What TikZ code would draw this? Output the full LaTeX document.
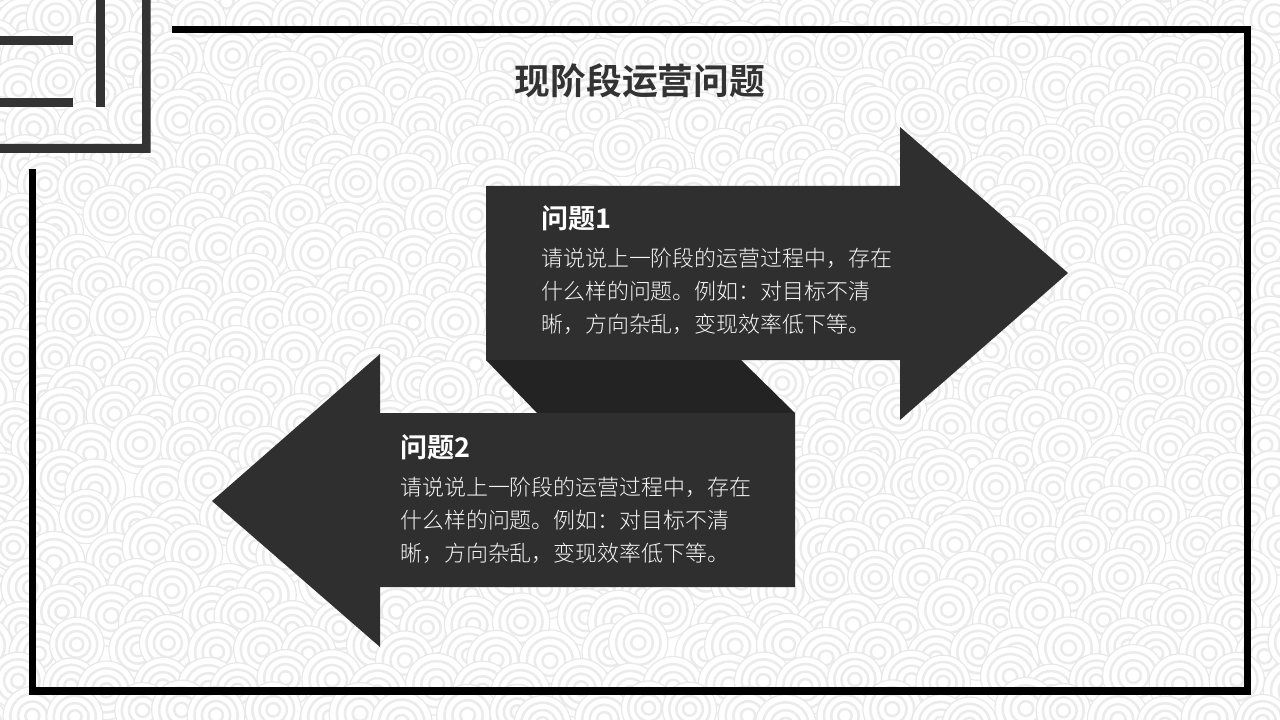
\documentclass[tikz,border=0pt]{standalone}
\usepackage{fontspec}
\setmainfont{Noto Sans CJK SC}[BoldFont={Noto Sans CJK SC Bold}]
\newfontfamily\lightcjk{Noto Sans CJK SC Light}
\definecolor{ringc}{HTML}{EBEBEB}
\definecolor{edgec}{HTML}{E8E8E8}
\definecolor{arrowc}{HTML}{2F2F2F}
\definecolor{foldc}{HTML}{232323}
\definecolor{iconc}{HTML}{333333}
\definecolor{bodyc}{HTML}{F6F6F6}
\tikzset{
  frameline/.style={draw=black,line width=5.6pt,line cap=butt,miter limit=10},
  arrowshape/.style={fill=arrowc,draw=none},
  headtext/.style={text=white,font=\bfseries\fontsize{20.3}{24}\selectfont,anchor=west,inner sep=0pt},
  bodytext/.style={text=bodyc,font=\lightcjk\fontsize{16.45}{25}\selectfont,anchor=north west,inner sep=0pt,align=left,text width=300pt},
  titletext/.style={text=iconc,font=\bfseries\fontsize{26.8}{30}\selectfont,anchor=center,inner sep=0pt}
}
\newcommand{\scallop}[3]{%
  \fill[white] (#1,#2) circle[radius=#3];
  \draw[edgec,line width=0.9pt] (#1,#2) circle[radius=#3];
  \draw[ringc,line width=1.9pt] (#1,#2) circle[radius={#3*0.75}];
  \draw[ringc,line width=1.9pt] (#1,#2) circle[radius={#3*0.49}];
  \draw[ringc,line width=1.9pt] (#1,#2) circle[radius={#3*0.24}];
}
\begin{document}
\begin{tikzpicture}[x=0.75pt,y=-0.75pt]
\useasboundingbox (0,0) rectangle (1280,720);
\fill[white] (0,0) rectangle (1280,720);
\begin{scope}
\clip (0,0) rectangle (1280,720);
\pgfmathsetseed{4217}
\foreach \r in {0,...,22}{
  \foreach \c in {0,...,28}{
    \pgfmathsetmacro{\px}{\c*47-10+mod(\r,2)*23+rnd*24-12}
    \pgfmathsetmacro{\py}{\r*33-8+rnd*20-10}
    \pgfmathsetmacro{\pr}{27+rnd*4}
    \scallop{\px}{\py}{\pr}
  }
}
\end{scope}
% frame
\draw[frameline] (172,29.3) -- (1247.5,29.3) -- (1247.5,690.8) -- (32.5,690.8) -- (32.5,169);
% corner icon
\fill[iconc] (0,144) -- (142,144) -- (142,0) -- (150.5,0) -- (150.5,153) -- (0,153) -- cycle;
\fill[iconc] (96,0) rectangle (104.5,107);
\fill[iconc] (0,36) rectangle (73,45);
\fill[iconc] (0,98) rectangle (73,107);
% arrows
\fill[arrowshape] (486,186) -- (900,186) -- (900,127) -- (1068,273) -- (900,420) -- (900,360) -- (486,360) -- cycle;
\fill[foldc] (486,360) -- (741,360) -- (795,413) -- (537,413) -- cycle;
\fill[arrowshape] (795,413) -- (380,413) -- (380,354) -- (212,501) -- (380,647) -- (380,587) -- (795,587) -- cycle;
% text
\node[titletext] (title) at (640,81) {现阶段运营问题};
\node[headtext] (h1) at (541,218.5) {问题1};
\node[bodytext] (b1) at (541,247.5) {请说说上一阶段的运营过程中，存在\\什么样的问题。例如：对目标不清\\晰，方向杂乱，变现效率低下等。};
\node[headtext] (h2) at (400,447.5) {问题2};
\node[bodytext] (b2) at (400,476.5) {请说说上一阶段的运营过程中，存在\\什么样的问题。例如：对目标不清\\晰，方向杂乱，变现效率低下等。};
\end{tikzpicture}
\end{document}
